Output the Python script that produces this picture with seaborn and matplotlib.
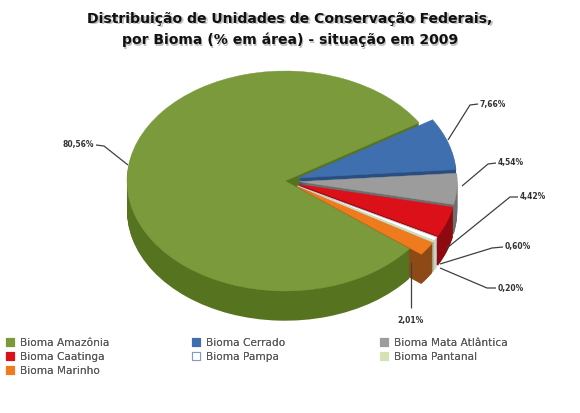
import numpy as np
import matplotlib
matplotlib.use("Agg")
import matplotlib.pyplot as plt
import seaborn as sns

# Federal conservation units by biome (% of area), 2009
biomas = ["Bioma Amazônia", "Bioma Cerrado", "Bioma Mata Atlântica",
          "Bioma Caatinga", "Bioma Pampa", "Bioma Pantanal", "Bioma Marinho"]
percentuais = [80.56, 7.66, 4.54, 4.42, 0.60, 0.20, 2.01]
rotulos = ["80,56%", "7,66%", "4,54%", "4,42%", "0,60%", "0,20%", "2,01%"]

titulo = ("Distribuição de Unidades de Conservação Federais,\n"
          "por Bioma (% em área) - situação em 2009")

cores = ["#7A9A3C", "#3F6FAF", "#9C9C9C", "#DC1018", "#FFFFFF", "#D4E2B4", "#F07A1E"]
cores_lado = ["#56731F", "#2B4E80", "#6E6E6E", "#8E0A10", "#CFCFCF", "#A5B48A", "#8E4A16"]
bordas = ["none", "none", "none", "none", "#C8C8C8", "none", "none"]

sns.set_theme(style="white")
plt.rcParams["font.family"] = ["DejaVu Sans"]

W, H = 580, 413
fig = plt.figure(figsize=(W / 100, H / 100), dpi=100)
ax = fig.add_axes([0, 0, 1, 1])

# ellipse geometry in pixels: centre and radii
cx, cy, rx, ry = 285, 181, 158, 110


def limites():
    ax.set_xlim(-cx / rx, (W - cx) / rx)
    ax.set_ylim(-(H - cy) / ry, cy / ry)
    ax.set_aspect("auto")
    ax.axis("off")


def px(x):
    return (x - cx) / rx


def py(y):
    return (cy - y) / ry


explode = [0.0] + [0.09] * 6
start = -38

# side of the tilted disc: stacked darker copies
profundidade = 0.27
for d in np.linspace(profundidade, 0.01, 28):
    ax.pie(percentuais, colors=cores_lado, startangle=start, counterclock=False,
           explode=explode, center=(0, -d), radius=1.0,
           wedgeprops=dict(linewidth=0), frame=False)

wedges, _ = ax.pie(percentuais, colors=cores, startangle=start, counterclock=False,
                   explode=explode, center=(0, 0), radius=1.0,
                   wedgeprops=dict(linewidth=0.6), frame=False)
for w, ec in zip(wedges, bordas):
    if ec == "none":
        w.set_edgecolor(w.get_facecolor())
        w.set_linewidth(0.3)
    else:
        w.set_edgecolor(ec)

limites()

# leader lines and value labels (pixel coordinates)
linhas = [
    [(128, 165), (104, 146), (96, 145)],
    [(448, 140), (470, 105), (478, 104)],
    [(462, 186), (488, 164), (496, 163)],
    [(447, 248), (510, 197), (518, 197)],
    [(440, 264), (492, 248), (503, 247)],
    [(440, 268), (487, 288), (496, 288)],
    [(411, 262), (411, 300), (411, 308)],
]
textos = [
    (94, 144, "right"),
    (480, 104, "left"),
    (498, 163, "left"),
    (520, 197, "left"),
    (505, 247, "left"),
    (498, 288, "left"),
    (411, 320, "center"),
]
for pts, (tx, ty, ha), lab in zip(linhas, textos, rotulos):
    xs = [px(p[0]) for p in pts]
    ys = [py(p[1]) for p in pts]
    ax.plot(xs, ys, color="#404040", lw=0.9, solid_capstyle="butt")
    ax.text(px(tx), py(ty), lab, ha=ha, va="center", fontsize=5.5,
            fontweight="bold", color="#333333")

# title with a soft shadow
for off, col, alpha in [((1.2, -1.2), "#9A9A9A", 0.6), ((0, 0), "#111111", 1.0)]:
    fig.text(0.5 + off[0] / W, 1 - 29.5 / H + off[1] / H, titulo, ha="center", va="center",
             fontsize=10.1, fontweight="bold", color=col, alpha=alpha, linespacing=1.65)

# legend: three columns placed side by side, filled row by row
colunas = [[0, 3, 6], [1, 4], [2, 5]]
x_colunas = [6, 192, 380]
for idx, x0 in zip(colunas, x_colunas):
    handles = [plt.Rectangle((0, 0), 1, 1, facecolor=cores[i],
                             edgecolor="#7F9CC8" if i == 4 else cores[i], lw=0.8)
               for i in idx]
    leg = fig.legend(handles, [biomas[i] for i in idx], ncol=1,
                     loc="upper left", bbox_to_anchor=(x0 / W, 1 - 338 / H),
                     frameon=False, fontsize=7.6, handlelength=0.8, handleheight=0.8,
                     handletextpad=0.5, labelspacing=0.38, borderaxespad=0,
                     borderpad=0)
    for t in leg.get_texts():
        t.set_color("#5A5A5A")
    fig.add_artist(leg)

fig.savefig("out.png", dpi=100, facecolor="white")
